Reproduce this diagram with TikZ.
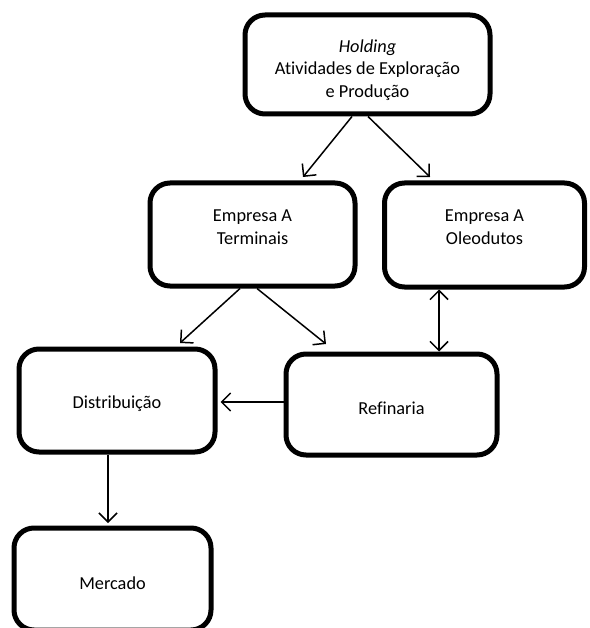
\documentclass[tikz,border=0pt]{standalone}
\usepackage{fontspec}
\setmainfont[Ligatures={NoCommon}]{Carlito}
\usetikzlibrary{arrows.meta,calc}
\begin{document}
\begin{tikzpicture}[x=1pt,y=-1pt,
  box/.style 2 args={draw, line width=5pt, rounded corners=20pt,
    minimum width=#1pt, minimum height=#2pt, inner sep=0pt},
  txt/.style={align=center, font=\fontsize{18.3}{22.5}\selectfont},
  barb/.tip={Straight Barb[length=9pt,width=18pt,line width=1.5pt]},
  arr/.style={line width=1.5pt, -barb},
  darr/.style={line width=1.5pt, barb-barb}]
\useasboundingbox (0,0) rectangle (589,628);

% boxes
\node[box={245}{99}]  (hold) at (367.5,64.5) {};
\node[box={205}{103}] (term) at (252.5,234.5) {};
\node[box={200}{104}] (oleo) at (484.5,235) {};
\node[box={211}{101}] (ref)  at (391.5,404.5) {};
\node[box={196}{103}] (dist) at (117,400.5) {};
\node[box={197}{102}] (merc) at (112.5,579) {};

% texts
\node[txt] (tHold) at (367.5,70) {\textit{Holding}\\Atividades de Exploração\\e Produção};
\node[txt] (tTerm) at (252.5,227) {Empresa A\\Terminais};
\node[txt] (tOleo) at (484.5,227) {Empresa A\\Oleodutos};
\node[txt] (tRef)  at (391.5,408) {Refinaria};
\node[txt] (tDist) at (117,404) {Distribuição};
\node[txt] (tMerc) at (112.5,583) {Mercado};

% connectors
\draw[arr]  ($(hold.south)+(-15.5,0)$) -- ($(term.north)+(50.5,-3.5)$);
\draw[arr]  ($(hold.south)+(0.5,0)$)   -- ($(oleo.north)+(-54.5,-3.5)$);
\draw[arr]  ($(term.south)+(-12.5,0)$) -- ($(dist.north)+(63,-3.5)$);
\draw[arr]  ($(term.south)+(4.5,0)$)   -- ($(ref.north)+(-65.5,-7.5)$);
\draw[darr] ($(oleo.south)+(-45.5,0)$) -- ($(ref.north)+(47.5,0)$);
\draw[arr]  (ref.west |- 0,402)        -- ($(dist.east |- 0,402)+(3,0)$);
\draw[arr]  ($(dist.south)+(-9,0)$)    -- ($(merc.north)+(-4.5,-2.5)$);
\end{tikzpicture}
\end{document}
